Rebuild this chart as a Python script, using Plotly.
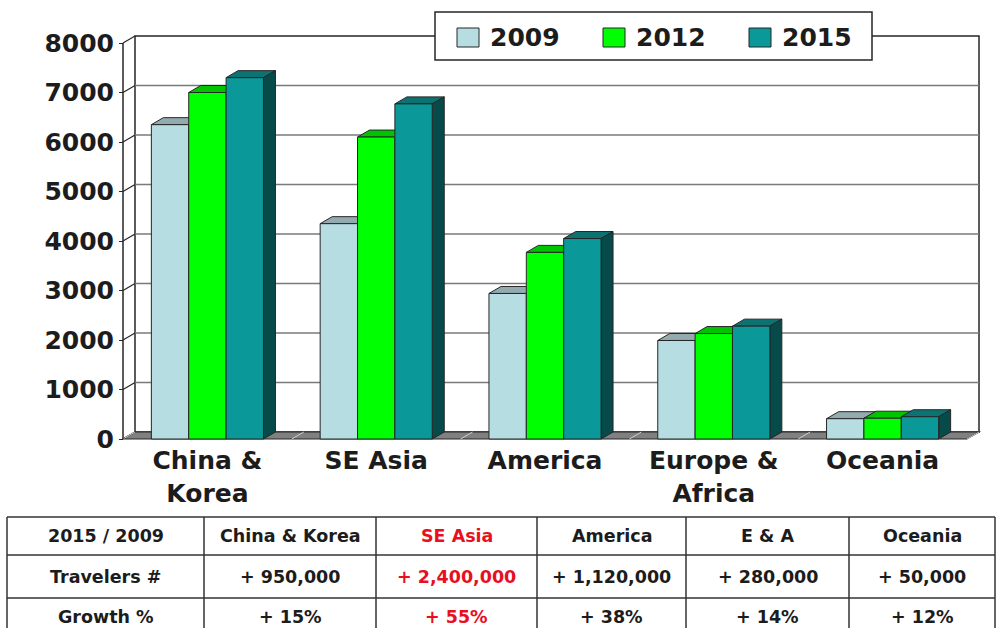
import plotly.graph_objects as go

# ---- data -------------------------------------------------------------
regions = ["China &<br>Korea", "SE Asia", "America", "Europe &<br>Africa", "Oceania"]
years = ["2009", "2012", "2015"]
travelers_2009 = [6350, 4350, 2940, 1990, 410]
travelers_2012 = [7000, 6100, 3770, 2130, 420]
travelers_2015 = [7300, 6770, 4050, 2280, 450]
y_ticks = [0, 1000, 2000, 3000, 4000, 5000, 6000, 7000, 8000]

table_head = ["2015 / 2009", "China & Korea", "SE Asia", "America", "E & A", "Oceania"]
table_travelers = ["Travelers #", "+ 950,000", "+ 2,400,000", "+ 1,120,000", "+ 280,000", "+ 50,000"]
table_growth = ["Growth %", "+ 15%", "+ 55%", "+ 38%", "+ 14%", "+ 12%"]
highlight_col = 2

series = [travelers_2009, travelers_2012, travelers_2015]

# ---- styling ----------------------------------------------------------
front_colors = ["#b6dde2", "#00ff00", "#0a9898"]
top_colors = ["#93aaae", "#00c400", "#0c7272"]
side_colors = ["#5f8084", "#008a00", "#064a4a"]
edge = "#262626"
text_col = "#1c1c1c"
FONT = "DejaVu Sans"

W, H = 996, 628
X_PX0, UX = 123.0, 168.8      # pixel of x=-0.5, pixels per category
Y_PX0, UY = 439.0, 0.0495     # pixel of y=0, pixels per unit
DX = 12.0 / UX                # depth offset of the 3-D boxes
DY = 7.0 / UY
GROUP = 0.664
BW = GROUP / 3
N = len(regions)
YMAX = y_ticks[-1]


def px(x):
    return x / W


def py(y):
    return 1 - y / H


fig = go.Figure()

shapes = []

# back wall
shapes.append(dict(type="rect", xref="x", yref="y", layer="below",
                   x0=-0.5 + DX, x1=N - 0.5 + DX, y0=DY, y1=YMAX + DY,
                   fillcolor="white", line=dict(color=edge, width=1.5)))
# gridlines on the back wall and the side wall
for t in y_ticks[1:-1]:
    shapes.append(dict(type="line", xref="x", yref="y", layer="below",
                       x0=-0.5 + DX, x1=N - 0.5 + DX, y0=t + DY, y1=t + DY,
                       line=dict(color="#7a7a7a", width=1.5)))
for t in y_ticks:
    shapes.append(dict(type="line", xref="x", yref="y", layer="below",
                       x0=-0.5, x1=-0.5 + DX, y0=t, y1=t + DY,
                       line=dict(color=edge, width=1.2)))
# floor
shapes.append(dict(type="path", xref="x", yref="y", layer="below",
                   path=f"M {-0.5},0 L {N - 0.5},0 L {N - 0.5 + DX},{DY} L {-0.5 + DX},{DY} Z",
                   fillcolor="#808080", line=dict(color=edge, width=1.2)))
for k in range(N + 1):
    shapes.append(dict(type="line", xref="x", yref="y", layer="below",
                       x0=k - 0.5, x1=k - 0.5 + DX, y0=0, y1=DY,
                       line=dict(color="#cfcfcf", width=1)))
# front value axis
shapes.append(dict(type="line", xref="x", yref="y", layer="below",
                   x0=-0.5, x1=-0.5, y0=0, y1=YMAX,
                   line=dict(color=edge, width=1.5)))

# 3-D faces of every column: top and right side
for j, vals in enumerate(series):
    for i, v in enumerate(vals):
        x0 = i - GROUP / 2 + j * BW
        x1 = x0 + BW
        shapes.append(dict(type="path", xref="x", yref="y", layer="below",
                           path=f"M {x0},{v} L {x0 + DX},{v + DY} L {x1 + DX},{v + DY} L {x1},{v} Z",
                           fillcolor=top_colors[j], line=dict(color=edge, width=1)))
        shapes.append(dict(type="path", xref="x", yref="y", layer="below",
                           path=f"M {x1},0 L {x1},{v} L {x1 + DX},{v + DY} L {x1 + DX},{DY} Z",
                           fillcolor=side_colors[j], line=dict(color=edge, width=1)))

# front faces
for j, vals in enumerate(series):
    fig.add_trace(go.Bar(
        x=list(range(N)), y=vals, name=years[j],
        width=BW, offset=-GROUP / 2 + j * BW,
        marker=dict(color=front_colors[j], line=dict(color=edge, width=1)),
        showlegend=False,
    ))

annotations = []

# legend box
shapes.append(dict(type="rect", xref="paper", yref="paper", layer="above",
                   x0=px(435), x1=px(872), y0=py(60), y1=py(12),
                   fillcolor="white", line=dict(color=edge, width=1.5)))
legend_x = [457, 603, 749]
for j, yr in enumerate(years):
    sx = legend_x[j]
    shapes.append(dict(type="rect", xref="paper", yref="paper", layer="above",
                       x0=px(sx), x1=px(sx + 22), y0=py(47), y1=py(28),
                       fillcolor=front_colors[j], line=dict(color=edge, width=1)))
    annotations.append(dict(xref="paper", yref="paper", x=px(sx + 31), y=py(38),
                            xanchor="left", yanchor="middle", showarrow=False,
                            text=yr, font=dict(family=FONT, size=25, color=text_col, weight="bold")))

# summary table
col_x = [7, 204, 376, 537, 686, 849, 995]
row_y = [517, 555, 598]
row_mid = [536, 577, 617]
for yy in row_y:
    shapes.append(dict(type="line", xref="paper", yref="paper", layer="above",
                       x0=px(col_x[0]), x1=px(col_x[-1]), y0=py(yy), y1=py(yy),
                       line=dict(color="#333333", width=1.5)))
for xx in col_x:
    shapes.append(dict(type="line", xref="paper", yref="paper", layer="above",
                       x0=px(xx), x1=px(xx), y0=py(row_y[0]), y1=0,
                       line=dict(color="#333333", width=1.5)))
for r, row in enumerate([table_head, table_travelers, table_growth]):
    for c, txt in enumerate(row):
        color = "#e8101e" if c == highlight_col else text_col
        annotations.append(dict(xref="paper", yref="paper",
                                x=px((col_x[c] + col_x[c + 1]) / 2), y=py(row_mid[r]),
                                xanchor="center", yanchor="middle", showarrow=False,
                                text=txt, font=dict(family=FONT, size=17.5, color=color, weight="bold")))

fig.update_layout(
    width=W, height=H,
    margin=dict(l=0, r=0, t=0, b=0),
    paper_bgcolor="white", plot_bgcolor="white",
    barmode="overlay",
    shapes=shapes, annotations=annotations,
    xaxis=dict(domain=[0, 1], range=[-0.5 - X_PX0 / UX, -0.5 + (W - X_PX0) / UX],
               anchor="free", position=py(Y_PX0),
               tickvals=list(range(N)), ticktext=regions,
               tickfont=dict(family=FONT, size=25, color=text_col, weight="bold"),
               ticks="", showgrid=False, zeroline=False, showline=False,
               ticklabelstandoff=4),
    yaxis=dict(domain=[0, 1], range=[-(H - Y_PX0) / UY, Y_PX0 / UY],
               anchor="free", position=px(X_PX0),
               tickvals=y_ticks, ticktext=[str(t) for t in y_ticks],
               tickfont=dict(family=FONT, size=25, color=text_col, weight="bold"),
               ticks="outside", ticklen=4, tickcolor=edge,
               showgrid=False, zeroline=False, showline=False),
    showlegend=False,
)

fig.write_html("out.html")
